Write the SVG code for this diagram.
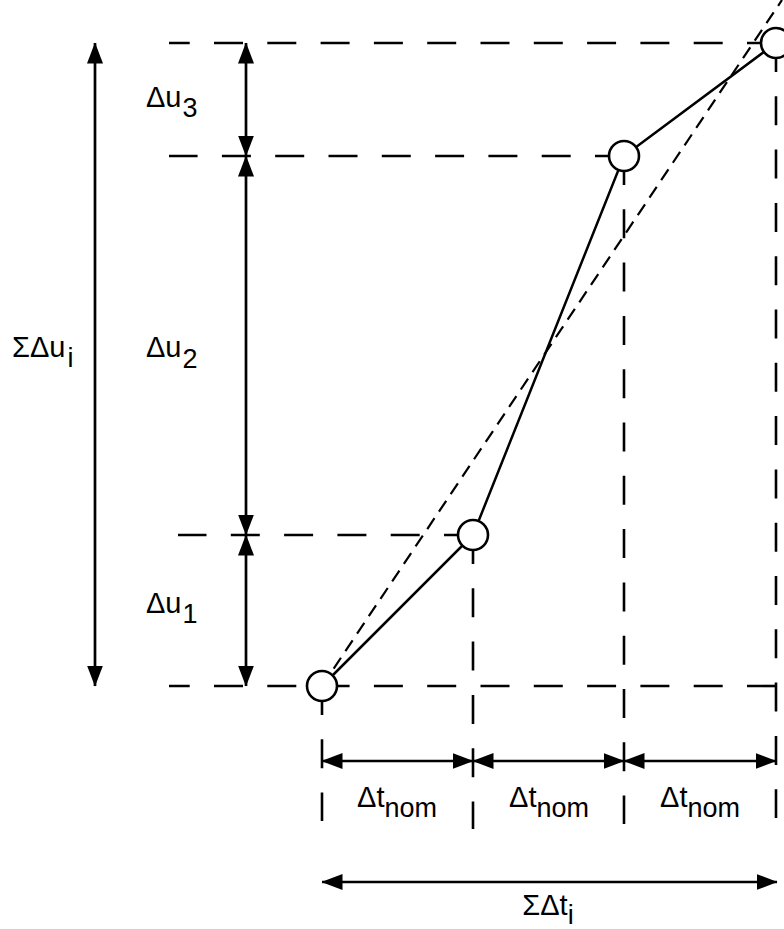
<svg xmlns="http://www.w3.org/2000/svg" width="784" height="929" viewBox="0 0 784 929">
<style>
.dash{fill:none;stroke:#000;stroke-width:2.6;stroke-dasharray:29 24.3}
.diag{fill:none;stroke:#000;stroke-width:2.2;stroke-dasharray:13 8}
.solid{fill:none;stroke:#000;stroke-width:2.5}
.arr{fill:none;stroke:#000;stroke-width:2.7;marker-start:url(#ah);marker-end:url(#ah)}
.pt{fill:#fff;stroke:#000;stroke-width:2.6}
text{font-family:"Liberation Sans",Arial,Helvetica,sans-serif;font-size:29px;fill:#000}
.sub{font-size:27px}
</style>
<defs>
<marker id="ah" markerUnits="userSpaceOnUse" markerWidth="21" markerHeight="17" viewBox="0 0 21 17" refX="20.5" refY="8.5" orient="auto-start-reverse">
<path d="M0,0.5 L21,8.5 L0,16.5 Z" fill="#000"/>
</marker>
</defs>
<g id="guides">
<path class="dash" d="M776,43 H169"/>
<path class="dash" d="M624,156 H169"/>
<path class="dash" d="M473,535 H178"/>
<path class="dash" d="M776,686 H169"/>
<path class="dash" d="M322,686 V821"/>
<path class="dash" d="M473,535 V829"/>
<path class="dash" d="M624,156 V824"/>
<path class="dash" d="M776,43 V818"/>
</g>
<g id="connectors">
<path id="trend" class="diag" d="M322,686 L782,0"/>
<path id="curve" class="solid" d="M322,686 L473,535 L624,156 L776,43"/>
<path class="arr" d="M95,43 V686"/>
<path class="arr" d="M246,43 V156"/>
<path class="arr" d="M246,156 V535"/>
<path class="arr" d="M246,535 V686"/>
<path class="arr" d="M322,761 H473"/>
<path class="arr" d="M473,761 H624"/>
<path class="arr" d="M624,761 H776"/>
<path class="arr" d="M322,882 H777"/>
</g>
<g id="p0"><circle class="pt" cx="322" cy="686" r="15"/></g>
<g id="p1"><circle class="pt" cx="473" cy="535" r="15"/></g>
<g id="p2"><circle class="pt" cx="624" cy="156" r="15"/></g>
<g id="p3"><circle class="pt" cx="776" cy="43" r="15"/></g>
<g id="label-du3"><text x="146" y="107">Δu<tspan class="sub" dx="1" dy="10">3</tspan></text></g>
<g id="label-du2"><text x="146" y="357">Δu<tspan class="sub" dx="1" dy="11">2</tspan></text></g>
<g id="label-du1"><text x="146" y="613">Δu<tspan class="sub" dx="1" dy="10">1</tspan></text></g>
<g id="label-sumdu"><text x="12" y="357">ΣΔu<tspan class="sub" dx="2" dy="10">i</tspan></text></g>
<g id="label-dt1"><text x="397" y="807" text-anchor="middle">Δt<tspan class="sub" dy="10">nom</tspan></text></g>
<g id="label-dt2"><text x="549" y="807" text-anchor="middle">Δt<tspan class="sub" dy="10">nom</tspan></text></g>
<g id="label-dt3"><text x="700" y="807" text-anchor="middle">Δt<tspan class="sub" dy="10">nom</tspan></text></g>
<g id="label-sumdt"><text x="548" y="915" text-anchor="middle">ΣΔt<tspan class="sub" dy="9">i</tspan></text></g>
</svg>
